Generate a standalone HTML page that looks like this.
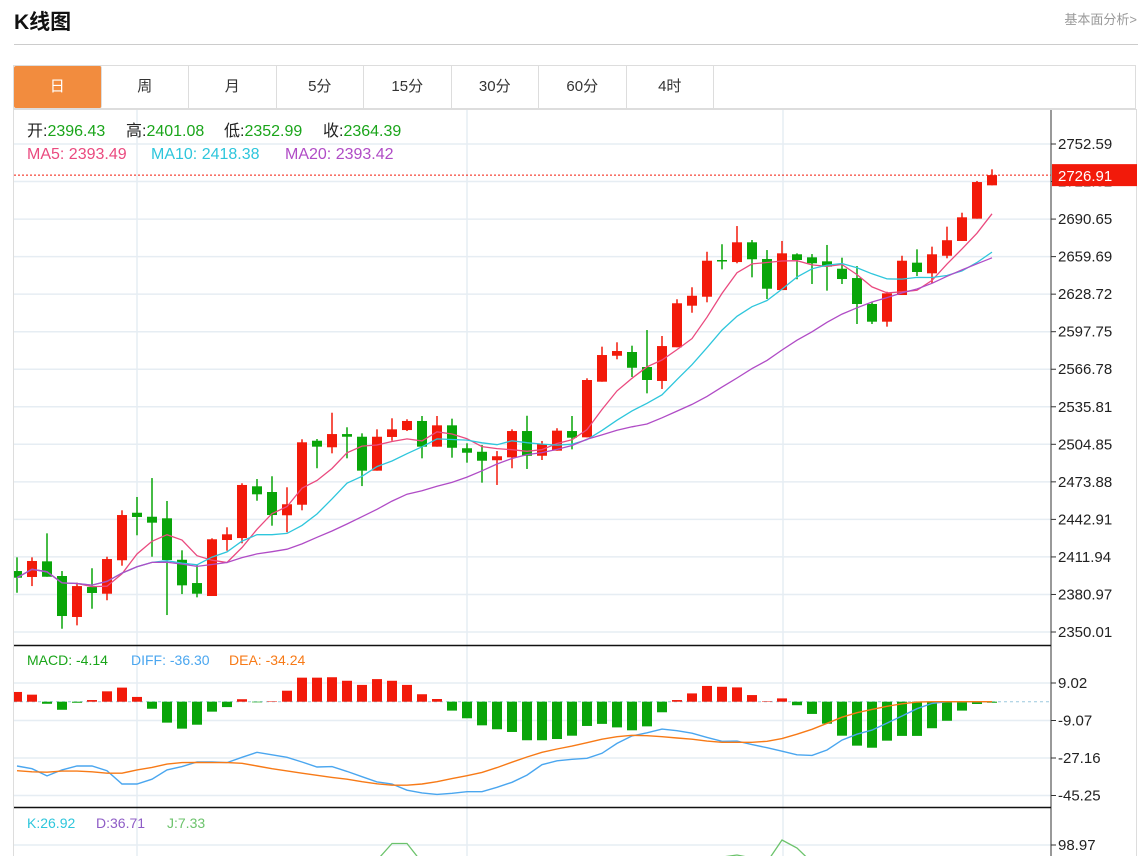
<!DOCTYPE html>
<html><head><meta charset="utf-8">
<style>
body{margin:0;width:1143px;height:856px;overflow:hidden;background:#fff;font-family:"Liberation Sans","Noto Sans CJK SC",sans-serif;position:relative}
#title{position:absolute;left:14px;top:6px;font-size:21px;font-weight:bold;color:#111}
#fund{position:absolute;right:6px;top:9px;font-size:13px;color:#999}
#hr{position:absolute;left:14px;top:44px;width:1124px;height:1px;background:#ccc}
#tabs{position:absolute;left:13px;top:65px;width:1123px;height:44px;border:1px solid #ddd;box-sizing:border-box;display:flex}
.tab{width:87.5px;height:42px;line-height:42px;text-align:center;font-size:15px;color:#333;border-right:1px solid #ddd;box-sizing:border-box}
.tab.act{background:#f28c3e;color:#fff;border-radius:2px}
svg{position:absolute;left:0;top:0}
</style></head><body>
<div id="title">K线图</div>
<div id="fund">基本面分析&gt;</div>
<div id="hr"></div>
<div id="tabs">
<div class="tab act">日</div>
<div class="tab">周</div>
<div class="tab">月</div>
<div class="tab">5分</div>
<div class="tab">15分</div>
<div class="tab">30分</div>
<div class="tab">60分</div>
<div class="tab">4时</div>
</div>
<svg id="chart" width="1143" height="856" font-family="Liberation Sans, Noto Sans CJK SC, sans-serif"></svg>
<script>
const opens=[2400.3,2395.4,2408.3,2396.2,2362.4,2387.1,2381.6,2409.2,2448.4,2445.1,2443.8,2409.6,2390.4,2379.7,2425.9,2427.5,2470.2,2465.5,2446.3,2455.0,2507.8,2502.4,2513.3,2511.1,2483.1,2510.9,2516.6,2524.1,2502.9,2520.5,2501.6,2498.7,2491.7,2494.1,2515.8,2495.4,2499.6,2515.8,2510.6,2556.5,2577.9,2581.0,2568.6,2557.1,2584.9,2619.2,2626.6,2656.9,2655.2,2671.5,2657.7,2632.1,2661.6,2659.1,2655.8,2649.7,2642.0,2620.6,2606.0,2628.0,2654.7,2645.9,2660.4,2672.6,2691.0,2718.5];
const closes=[2394.8,2408.6,2395.6,2363.2,2387.9,2382.2,2410.2,2446.5,2444.9,2440.2,2409.4,2388.5,2381.6,2426.5,2430.6,2471.3,2463.6,2446.5,2455.4,2506.5,2502.9,2513.3,2511.1,2483.1,2511.1,2517.2,2524.1,2502.9,2520.5,2502.0,2497.9,2491.3,2495.0,2515.8,2495.4,2505.1,2516.1,2510.3,2557.9,2578.5,2581.8,2568.0,2557.9,2585.9,2621.2,2627.4,2656.3,2655.8,2671.5,2657.5,2633.2,2662.4,2656.9,2654.2,2651.4,2641.2,2620.6,2606.0,2629.4,2656.3,2647.0,2661.6,2673.2,2692.1,2721.2,2726.91];
const highs=[2411.6,2411.6,2431.4,2400.3,2390.7,2402.6,2412.1,2450.4,2461.4,2477.0,2458.1,2417.4,2405.5,2427.3,2436.4,2472.7,2476.2,2478.5,2469.4,2509.0,2509.2,2530.9,2518.9,2513.9,2517.2,2526.3,2525.5,2528.2,2528.2,2526.0,2505.7,2504.3,2499.3,2517.2,2528.4,2507.6,2518.1,2528.2,2559.3,2585.4,2589.0,2586.2,2599.1,2594.2,2624.5,2634.4,2663.7,2669.9,2684.9,2673.4,2665.1,2672.6,2662.4,2661.8,2669.3,2658.8,2651.9,2622.5,2630.7,2660.4,2665.7,2667.9,2684.4,2695.9,2722.1,2731.7];
const lows=[2382.4,2387.9,2395.6,2352.7,2355.5,2369.2,2376.2,2404.7,2429.8,2412.1,2364.0,2381.3,2378.6,2379.7,2417.1,2423.2,2458.3,2437.7,2432.3,2450.4,2485.1,2497.4,2493.3,2470.4,2483.1,2507.8,2515.8,2493.3,2502.9,2493.8,2489.7,2473.2,2471.3,2485.1,2484.5,2491.9,2499.6,2500.7,2510.6,2556.5,2575.0,2560.4,2546.9,2550.5,2584.9,2613.4,2622.0,2649.2,2654.2,2642.6,2624.7,2632.1,2641.0,2637.1,2631.6,2637.1,2604.1,2604.1,2601.9,2628.0,2643.7,2637.7,2658.3,2672.6,2691.0,2718.5];
const macdHist=[4.7,3.4,-1.0,-3.9,-0.5,0.8,5.0,6.8,2.3,-3.4,-10.1,-13.0,-11.1,-4.8,-2.6,1.2,-0.3,0.1,5.3,11.6,11.6,11.8,10.1,8.1,10.9,10.1,8.1,3.6,1.3,-4.3,-8.0,-11.4,-13.3,-14.6,-18.6,-18.6,-18.0,-16.4,-11.7,-10.7,-12.4,-13.8,-11.9,-5.1,0.8,4.0,7.6,7.2,6.9,3.2,0.2,1.6,-1.7,-5.9,-10.6,-16.4,-21.2,-22.2,-18.8,-16.5,-16.5,-12.8,-9.2,-4.3,-1.1,-0.5];
const diff=[-31.0,-32.3,-35.8,-32.9,-31.0,-31.0,-33.3,-39.7,-39.7,-37.4,-32.9,-31.3,-29.1,-29.1,-29.4,-26.8,-24.4,-25.6,-26.8,-29.1,-31.5,-31.3,-33.6,-36.2,-38.7,-39.7,-42.7,-44.0,-44.7,-44.2,-43.4,-43.4,-41.3,-38.9,-35.4,-30.4,-28.5,-27.8,-27.3,-24.9,-20.1,-16.5,-15.0,-13.2,-14.0,-15.2,-17.2,-19.1,-19.0,-20.7,-22.2,-23.9,-25.6,-25.9,-23.3,-18.5,-15.7,-13.7,-10.3,-6.9,-3.4,-0.8,0,0,0,0];
const dea=[-33.3,-33.8,-34.0,-33.5,-33.5,-33.8,-34.5,-34.5,-32.9,-31.7,-30.1,-29.4,-29.3,-29.4,-29.4,-29.7,-31.0,-32.3,-33.4,-34.5,-35.5,-36.5,-37.4,-38.6,-39.6,-40.3,-40.3,-39.7,-38.6,-37.1,-35.7,-34.1,-31.8,-29.2,-26.7,-24.4,-22.8,-21.4,-19.8,-18.1,-16.9,-16.2,-16.4,-16.9,-17.5,-18.1,-19.0,-19.6,-19.6,-19.6,-19.1,-17.8,-15.7,-13.3,-10.4,-7.5,-5.3,-3.7,-2.2,-1.0,-0.2,0,0,0,0,0];
const jVals=[40,35,30,25,30,35,45,50,45,40,30,25,30,40,45,50,55,50,45,55,60,65,70,72,65,102.3,102.3,60,55,50,45,40,35,40,45,40,45,50,55,60,62,60,58,62,65,68,70,72,76.7,70,61,110,92.3,60,50,40,30,20,25,30,35,40,35,30,20,10];
const priceTicks=[2752.59,2721.62,2690.65,2659.69,2628.72,2597.75,2566.78,2535.81,2504.85,2473.88,2442.91,2411.94,2380.97,2350.01];
const priceLabels=["2752.59","","2690.65","2659.69","2628.72","2597.75","2566.78","2535.81","2504.85","2473.88","2442.91","2411.94","2380.97","2350.01"];
const macdTicks=[9.02,-9.07,-27.16,-45.25];
const kdjTicks=[98.97];

const NS='http://www.w3.org/2000/svg';
const svg=document.getElementById('chart');
const L=14,R=1051;
const xOf=i=>17+15*i;
const yP=v=>144+(2752.59-v)*(488/402.58);
const yM=v=>701.7-v*2.073;
const yK=v=>845-(v-98.97)*0.45;
function mk(tag,attrs,parent){const e=document.createElementNS(NS,tag);for(const k in attrs)e.setAttribute(k,attrs[k]);(parent||svg).appendChild(e);return e;}
const defs=mk('defs',{});
const cp=mk('clipPath',{id:'cpP'},defs);mk('rect',{x:L,y:110,width:R-L,height:535},cp);
const cm=mk('clipPath',{id:'cpM'},defs);mk('rect',{x:L,y:646,width:R-L,height:161},cm);
const ck=mk('clipPath',{id:'cpK'},defs);mk('rect',{x:L,y:809,width:R-L,height:47},ck);

let e=mk('rect',{x:13.5,y:109.5,width:1123,height:760,fill:'none',stroke:'#ddd'});

[137,467,783].forEach(x=>{const g=mk('line',{x1:x,x2:x,y1:110,y2:856,stroke:'#e6edf3','stroke-width':1.5});
});
priceTicks.forEach((v,i)=>{const y=yP(v);
const g=mk('line',{x1:L,x2:R,y1:y,y2:y,stroke:'#e6edf3','stroke-width':1.5});

mk('line',{x1:R,x2:R+5,y1:y,y2:y,stroke:'#333'});
const t=mk('text',{x:R+7,y:y+5,'font-size':15,fill:'#222'});t.textContent=priceLabels[i]||String(v);
});
macdTicks.forEach(v=>{const y=yM(v);
const g=mk('line',{x1:L,x2:R,y1:y,y2:y,stroke:'#e6edf3','stroke-width':1.5});

mk('line',{x1:R,x2:R+5,y1:y,y2:y,stroke:'#333'});
const t=mk('text',{x:R+7,y:y+5,'font-size':15,fill:'#222'});t.textContent=v.toFixed(2);
});
kdjTicks.forEach(v=>{const y=yK(v);
const g=mk('line',{x1:L,x2:R,y1:y,y2:y,stroke:'#e6edf3','stroke-width':1.5});

mk('line',{x1:R,x2:R+5,y1:y,y2:y,stroke:'#333'});
const t=mk('text',{x:R+7,y:y+5,'font-size':15,fill:'#222'});t.textContent=v.toFixed(2);
});
mk('line',{x1:R,x2:R,y1:110,y2:856,stroke:'#333'});
mk('line',{x1:L,x2:R,y1:645.5,y2:645.5,stroke:'#111','stroke-width':1.5});
mk('line',{x1:L,x2:R,y1:807.5,y2:807.5,stroke:'#111','stroke-width':1.5});

const gp=mk('g',{'clip-path':'url(#cpP)'});
closes.forEach((c,i)=>{const o=opens[i],up=c>=o,col=up?'#f21a0a':'#09a509',x=xOf(i);
const g=mk('g',{},gp);

mk('line',{x1:x,x2:x,y1:yP(highs[i]),y2:yP(lows[i]),stroke:col,'stroke-width':1.5},g);
const top=yP(Math.max(o,c)),bot=yP(Math.min(o,c));
mk('rect',{x:x-5,y:top,width:10,height:Math.max(1.5,bot-top),fill:col},g);});
function ma(n){return closes.map((_,i)=>{const s=closes.slice(Math.max(0,i-n+1),i+1);return s.reduce((a,b)=>a+b,0)/s.length;});}
[[5,'#ea4a7f','ma5-line'],[10,'#2ec6dc','ma10-line'],[20,'#b04cc6','ma20-line']].forEach(([n,col,name])=>{
const pts=ma(n).map((v,i)=>xOf(i)+','+yP(v).toFixed(1)).join(' ');
const p=mk('polyline',{points:pts,fill:'none',stroke:col,'stroke-width':1.3},gp);
});
const ly=yP(closes[closes.length-1]);
mk('line',{x1:L,x2:R,y1:ly,y2:ly,stroke:'#f21a0a','stroke-dasharray':'2,2'});
const lb=mk('rect',{x:R+1,y:ly-11,width:85,height:22,fill:'#f21a0a'});

const lt=mk('text',{x:R+7,y:ly+6,'font-size':15,fill:'#fff'});lt.textContent=closes[closes.length-1].toFixed(2);

const gm=mk('g',{'clip-path':'url(#cpM)'});
mk('line',{x1:L,x2:R,y1:yM(0),y2:yM(0),stroke:'#9cc8dd','stroke-dasharray':'3,3'},gm);
macdHist.forEach((v,i)=>{const y0=yM(0),y1=yM(v);
const b=mk('rect',{x:xOf(i)-5,y:Math.min(y0,y1),width:10,height:Math.max(0.5,Math.abs(y1-y0)),fill:v>=0?'#f21a0a':'#09a509'},gm);
});
[[diff,'#4aa6ef','diff-line'],[dea,'#f77a17','dea-line']].forEach(([arr,col,name])=>{
const p=mk('polyline',{points:arr.map((v,i)=>xOf(i)+','+yM(v).toFixed(1)).join(' '),fill:'none',stroke:col,'stroke-width':1.4},gm);
});
const gk=mk('g',{'clip-path':'url(#cpK)'});
const jl=mk('polyline',{points:jVals.map((v,i)=>xOf(i)+','+yK(v).toFixed(1)).join(' '),fill:'none',stroke:'#6cc36c','stroke-width':1.3},gk);


function legend(y,size,parts,name){const t=mk('text',{y:y,'font-size':size});

parts.forEach(([x,s,c])=>{const ts=mk('tspan',{fill:c},t);if(x!==null)ts.setAttribute('x',x);ts.textContent=s;});}
legend(136,16,[[27,'开:','#222'],[null,'2396.43','#1aa51a'],[126,'高:','#222'],[null,'2401.08','#1aa51a'],[224,'低:','#222'],[null,'2352.99','#1aa51a'],[323,'收:','#222'],[null,'2364.39','#1aa51a']],'ohlc-legend');
legend(159,16,[[27,'MA5: 2393.49','#ea4a7f'],[151,'MA10: 2418.38','#2ec6dc'],[285,'MA20: 2393.42','#b04cc6']],'ma-legend');
legend(665,14,[[27,'MACD: -4.14','#1aa51a'],[131,'DIFF: -36.30','#4aa6ef'],[229,'DEA: -34.24','#f77a17']],'macd-legend');
legend(828,14,[[27,'K:26.92','#2ec6dc'],[96,'D:36.71','#8e5cc6'],[167,'J:7.33','#6cc36c']],'kdj-legend');
</script>
</body></html>
